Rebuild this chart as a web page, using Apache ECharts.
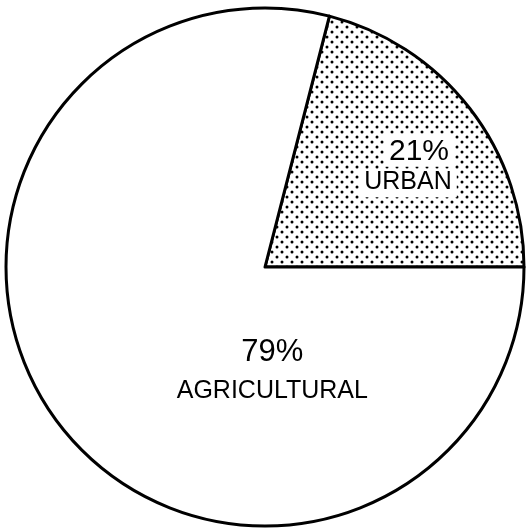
<!DOCTYPE html>
<html>
<head>
<meta charset="utf-8">
<script src="https://cdn.jsdelivr.net/npm/echarts@6/dist/echarts.min.js"></script>
<style>
  html, body { margin: 0; padding: 0; background: #fff; }
  #chart { width: 528px; height: 529px; }
</style>
</head>
<body>
<div id="chart"></div>
<script>
// Land use shares (percent)
const categories = ['URBAN', 'AGRICULTURAL'];
const shares = [21, 79];

// Stipple tile used as the fill of the urban slice
function stipple() {
  const c = document.createElement('canvas');
  c.width = 10; c.height = 10;
  const g = c.getContext('2d');
  g.fillStyle = '#fff';
  g.fillRect(0, 0, 10, 10);
  g.fillStyle = '#000';
  g.beginPath(); g.arc(2, 2, 1.5, 0, Math.PI * 2); g.fill();
  g.beginPath(); g.arc(7, 7, 1.5, 0, Math.PI * 2); g.fill();
  return c;
}

const fills = [{ image: stipple(), repeat: 'repeat' }, '#ffffff'];

// label anchor in polar terms: angle (deg, counter-clockwise from east), fraction of radius
const labelPolar = [[35, 0.674], [-86, 0.406]];

const chart = echarts.init(document.getElementById('chart'), null, { renderer: 'canvas' });
const CX = 265, CY = 267, R = 259;

const baseText = { fontFamily: 'Liberation Sans', color: '#000', align: 'center' };

chart.setOption({
  backgroundColor: '#ffffff',
  animation: false,
  series: [{
    type: 'pie',
    center: [CX, CY],
    radius: R,
    startAngle: shares[0] / 100 * 360,
    clockwise: true,
    silent: true,
    data: categories.map((name, i) => ({
      name: name,
      value: shares[i],
      itemStyle: { color: fills[i] }
    })),
    itemStyle: { borderColor: '#000', borderWidth: 3 },
    labelLine: { show: false },
    label: {
      show: true,
      position: 'inside',
      formatter: p => p.dataIndex === 0
        ? '{gap|}{pu|' + p.value + '%}\n{nu|' + p.name + '}'
        : '{pa|' + p.value + '%}\n{na|' + p.name + '}',
      rich: {
        gap: { width: 22, lineHeight: 33 },
        pu: Object.assign({ fontSize: 30, lineHeight: 33, backgroundColor: '#fff', padding: [3, 5, 0, 5] }, baseText),
        nu: Object.assign({ fontSize: 25, lineHeight: 33, backgroundColor: '#fff', padding: [0, 5, 3, 5] }, baseText),
        pa: Object.assign({ fontSize: 31, lineHeight: 38 }, baseText),
        na: Object.assign({ fontSize: 25, lineHeight: 38 }, baseText)
      }
    },
    labelLayout: function (params) {
      const lp = labelPolar[params.dataIndex];
      const a = lp[0] * Math.PI / 180;
      return {
        x: CX + Math.cos(a) * R * lp[1],
        y: CY - Math.sin(a) * R * lp[1],
        align: 'center',
        verticalAlign: 'middle'
      };
    }
  }]
});
</script>
</body>
</html>
